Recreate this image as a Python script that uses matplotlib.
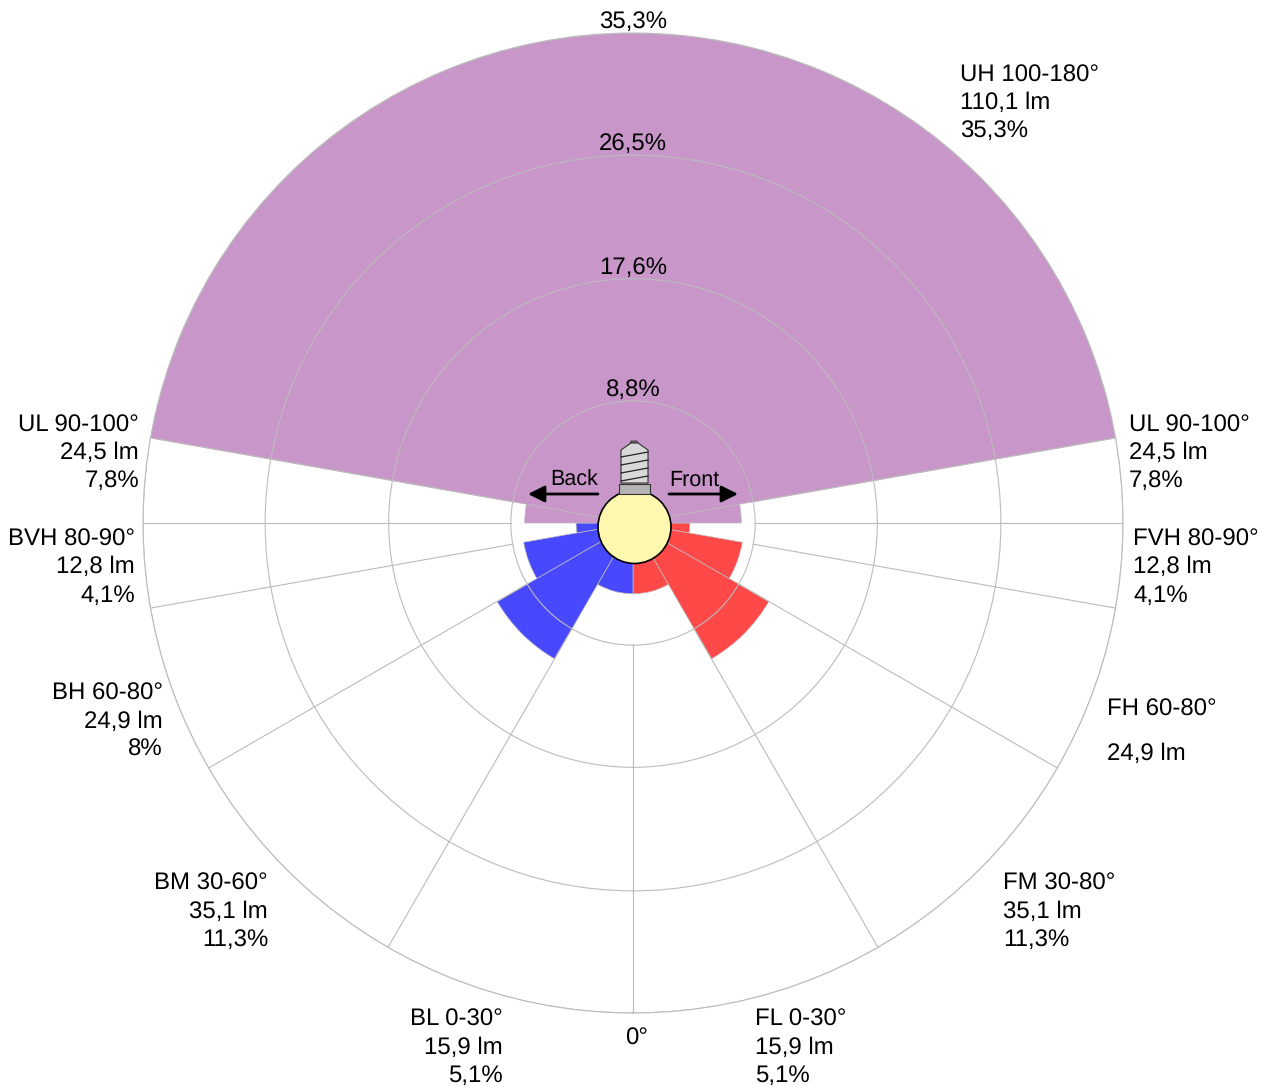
import numpy as np
import matplotlib
matplotlib.use('Agg')
import matplotlib.pyplot as plt
from matplotlib.patches import Circle, Rectangle, Polygon

plt.rcParams['font.family'] = ['Liberation Sans', 'DejaVu Sans']
plt.rcParams['text.hinting'] = 'none'

# zones, degrees from straight down
zone_start = [0, 30, 60, 80, 90, 100]
zone_end = [30, 60, 80, 90, 100, 180]
zone_pct = [5.1, 11.3, 8.0, 4.1, 7.8, 35.3]
ring_pct = [8.8, 17.6, 26.5, 35.3]
ring_labels = ['8,8%', '17,6%', '26,5%', '35,3%']
spoke_deg = [0, 30, 60, 80, 90, 100, 260, 270, 280, 300, 330]

# text, x px, y px, alignment
labels = [
    ('UH 100-180°', 960, 76, 'left'), ('110,1 lm', 960, 103, 'left'), ('35,3%', 960, 131, 'left'),
    ('UL 90-100°', 1129, 426, 'left'), ('24,5 lm', 1129, 453, 'left'), ('7,8%', 1129, 481, 'left'),
    ('FVH 80-90°', 1133, 540, 'left'), ('12,8 lm', 1133, 567, 'left'), ('4,1%', 1133, 596, 'left'),
    ('FH 60-80°', 1107, 710, 'left'), ('24,9 lm', 1107, 754, 'left'),
    ('FM 30-80°', 1003, 884, 'left'), ('35,1 lm', 1003, 912, 'left'), ('11,3%', 1003, 940, 'left'),
    ('FL 0-30°', 755, 1020, 'left'), ('15,9 lm', 755, 1048, 'left'), ('5,1%', 755, 1076, 'left'),
    ('UL 90-100°', 139, 426, 'right'), ('24,5 lm', 139, 453, 'right'), ('7,8%', 139, 481, 'right'),
    ('BVH 80-90°', 135, 540, 'right'), ('12,8 lm', 135, 567, 'right'), ('4,1%', 135, 596, 'right'),
    ('BH 60-80°', 163, 694, 'right'), ('24,9 lm', 163, 722, 'right'), ('8%', 163, 750, 'right'),
    ('BM 30-60°', 268, 884, 'right'), ('35,1 lm', 268, 912, 'right'), ('11,3%', 268, 940, 'right'),
    ('BL 0-30°', 503, 1020, 'right'), ('15,9 lm', 503, 1048, 'right'), ('5,1%', 503, 1076, 'right'),
    ('0°', 637, 1039, 'center'),
]

GRAY = '#bcbcbc'
PURPLE = '#c896c8'
BLUE = '#4848ff'
RED = '#ff4848'

W, H = 1268, 1086
fig = plt.figure(figsize=(W / 100, H / 100), dpi=100)

cx, cy, R = 633, 523, 490
ax = fig.add_axes([(cx - R) / W, (H - cy - R) / H, 2 * R / W, 2 * R / H], projection='polar')
ax.set_theta_zero_location('S')
ax.set_ylim(0, ring_pct[-1])

for s, e, p in zip(zone_start, zone_end, zone_pct):
    if e == 180:
        # upper hemisphere is one piece, both sides
        ax.bar(np.radians(180), p, width=np.radians(2 * (e - s)), color=PURPLE, edgecolor=GRAY, linewidth=0.5)
        continue
    col = PURPLE if s >= 90 else RED
    ax.bar(np.radians((s + e) / 2), p, width=np.radians(e - s), color=col, edgecolor=GRAY, linewidth=0.5)
    col = PURPLE if s >= 90 else BLUE
    ax.bar(np.radians(360 - (s + e) / 2), p, width=np.radians(e - s), color=col, edgecolor=GRAY, linewidth=0.5)

# spokes only start at the first ring
for d in spoke_deg:
    ax.plot([np.radians(d)] * 2, [ring_pct[0], ring_pct[-1]], color=GRAY, lw=0.8, zorder=1)

ax.set_rgrids(ring_pct, labels=[''] * 4)
ax.set_thetagrids([])
ax.grid(True, color=GRAY, lw=0.8)
ax.set_axisbelow(False)
ax.spines['polar'].set_color(GRAY)
ax.spines['polar'].set_linewidth(0.8)

for r, lab in zip(ring_pct, ring_labels):
    ax.annotate(lab, (np.pi, r), xytext=(0, 0), textcoords='offset points', ha='center', va='bottom',
                fontsize=17.3, color='black', annotation_clip=False)

# overlay in pixels for text and the lamp
ov = fig.add_axes([0, 0, 1, 1])
ov.set_xlim(0, W)
ov.set_ylim(H, 0)
ov.axis('off')
ov.patch.set_alpha(0)

for t, x, y, ha in labels:
    ov.text(x, y, t, ha=ha, va='center', fontsize=17.3, color='black')

# arrows
ov.annotate('', xy=(528, 494), xytext=(598, 494),
            arrowprops=dict(arrowstyle='-|>,head_length=1.0,head_width=0.5', color='black', lw=2, shrinkA=0, shrinkB=0))
ov.annotate('', xy=(738, 494), xytext=(669, 494),
            arrowprops=dict(arrowstyle='-|>,head_length=1.0,head_width=0.5', color='black', lw=2, shrinkA=0, shrinkB=0))
ov.text(574, 480, 'Back', ha='center', va='center', fontsize=15.5)
ov.text(694, 480, 'Front', ha='center', va='center', fontsize=15.5)

# lamp
ov.add_patch(Polygon([(630, 443), (631, 441), (637, 441), (638, 443)], fc='#808080', ec='#333333', lw=0.6))
ov.add_patch(Polygon([(621, 450), (631, 443), (638, 443), (648, 450), (648, 483), (621, 483)],
                     fc='#d8d8d8', ec='#333333', lw=0.8))
for y in [454, 462, 470, 478]:
    ov.plot([621, 648], [y + 3, y - 2], color='#222222', lw=0.9)
ov.add_patch(Circle((634.5, 527), 36.5, fc='#fff8ae', ec='black', lw=1.2, zorder=3))
ov.add_patch(Rectangle((619, 484), 31, 10, fc='#b4b4b4', ec='#333333', lw=0.8, zorder=4))

fig.savefig('out.png', dpi=100)
